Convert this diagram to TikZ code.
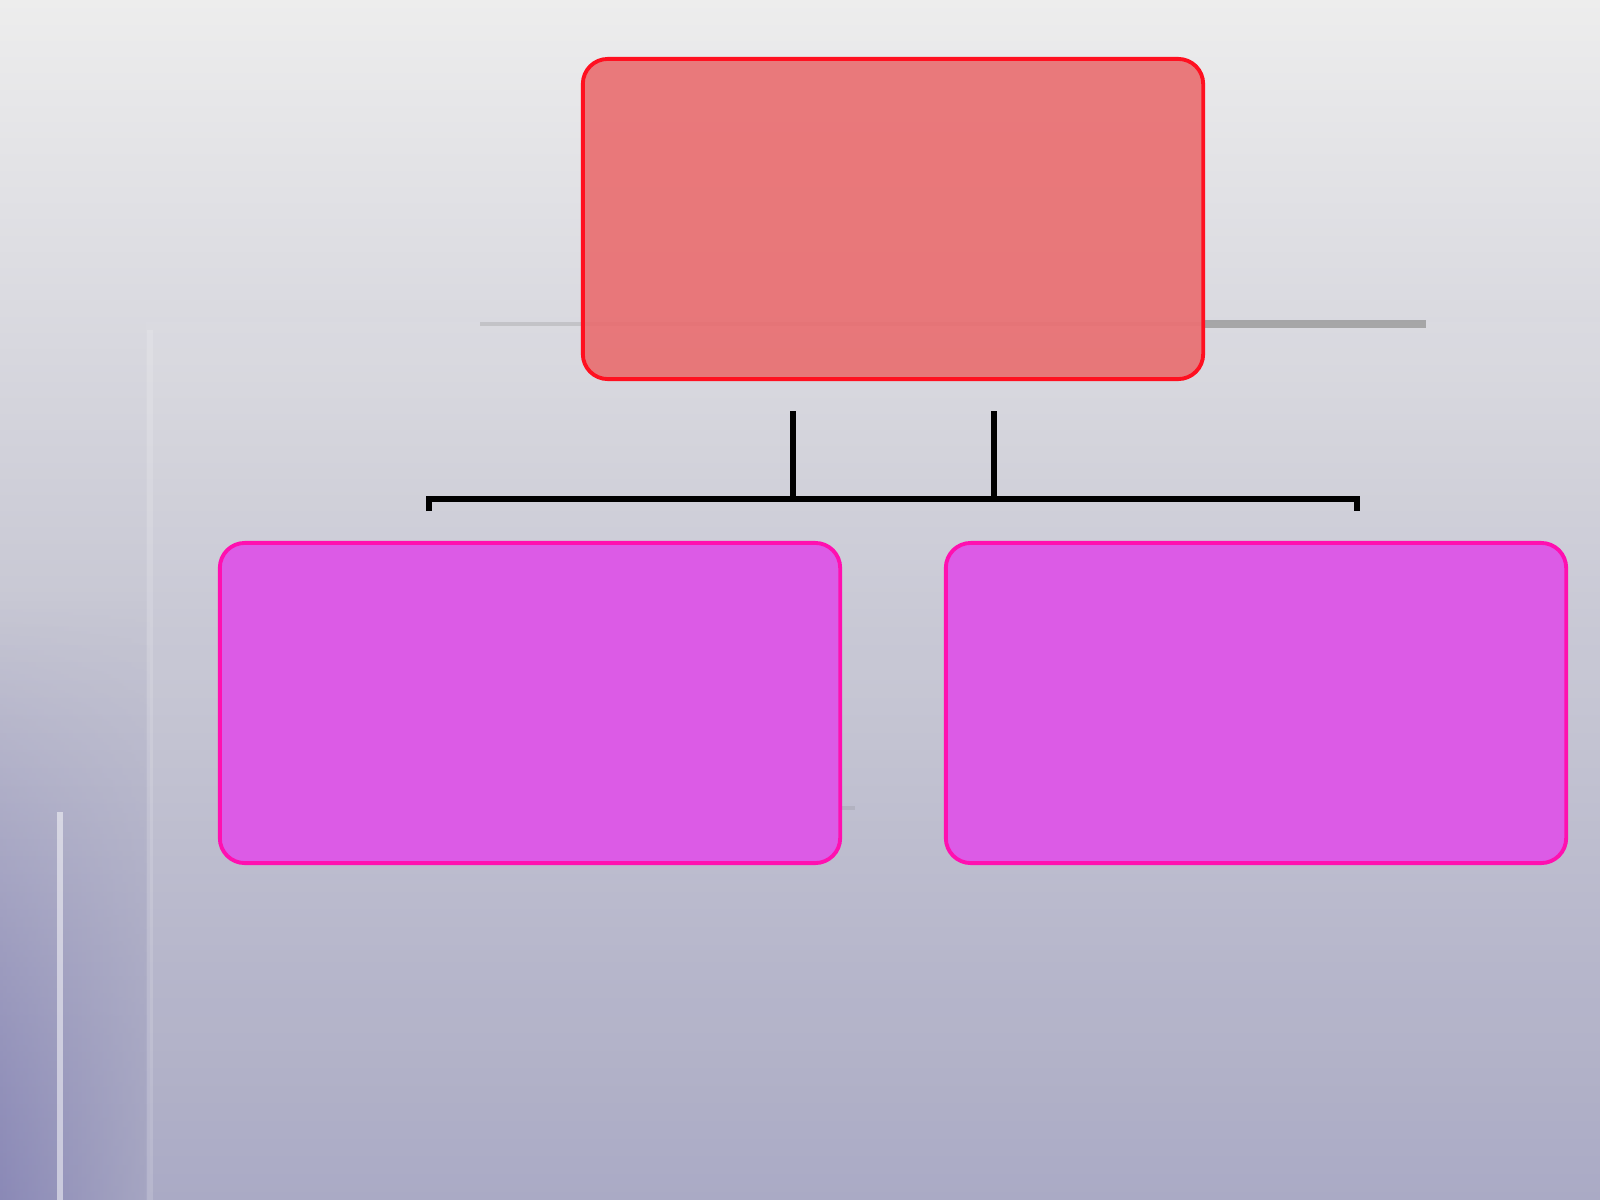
\documentclass[tikz,border=0pt]{standalone}
\usepackage{tikz}
\usepackage{amsmath}
\usetikzlibrary{positioning,fadings}
\definecolor{bgtop}{HTML}{EDEDED}
\definecolor{bgmid}{HTML}{C8C8D4}
\definecolor{bgbot}{HTML}{A6A6C2}
\definecolor{bgleft}{HTML}{8482B4}
\definecolor{headfill}{HTML}{EA6A6C}
\definecolor{headline}{HTML}{FF1020}
\definecolor{subfill}{HTML}{DC5BE6}
\definecolor{subline}{HTML}{FF10B0}
\begin{document}
\begin{tikzpicture}[x=0.01cm,y=-0.01cm,
  headbox/.style={draw=headline,fill=headfill,line width=1.1pt,rounded corners=0.25cm,
    minimum width=6.2cm,minimum height=3.2cm,fill opacity=0.88},
  subbox/.style={draw=subline,fill=subfill,line width=1.1pt,rounded corners=0.25cm,
    minimum width=6.2cm,minimum height=3.2cm},
  link/.style={draw=black,line width=1.5pt}]
\useasboundingbox (0,0) rectangle (1600,1200);
% background
\shade[top color=bgtop,bottom color=bgbot,middle color=bgmid] (0,0) rectangle (1600,1200);
\shade[left color=bgleft,right color=bgbot,path fading=north,opacity=0.8] (0,600) rectangle (150,1200);
\fill[white,opacity=0.05] (146,322) rectangle (1600,1200);
\draw[white,opacity=0.5,line width=1.5pt] (60,812) -- (60,1200);
\draw[white,opacity=0.15,line width=1.5pt] (150,330) -- (150,1200);
\draw[gray,opacity=0.25,line width=1pt] (480,324) -- (1205,324);
\draw[gray!80,opacity=0.8,line width=2.5pt] (1205,324) -- (1426,324);
\draw[gray,opacity=0.2,line width=1pt] (720,808) -- (855,808);
% boxes
\node[headbox] (head) at (893,219) {};
\node[subbox] (left) at (530,703) {};
\node[subbox] (right) at (1256,703) {};
% connectors
\coordinate (t1) at (793,411);
\coordinate (t2) at (994,411);
\coordinate (j1) at (793,499);
\coordinate (j2) at (994,499);
\coordinate (bl) at (429,511);
\coordinate (br) at (1357,511);
\draw[link] (t1) -- (j1);
\draw[link] (t2) -- (j2);
\draw[link] (bl) |- (j1) -- (j2) -| (br);
\end{tikzpicture}
\end{document}
